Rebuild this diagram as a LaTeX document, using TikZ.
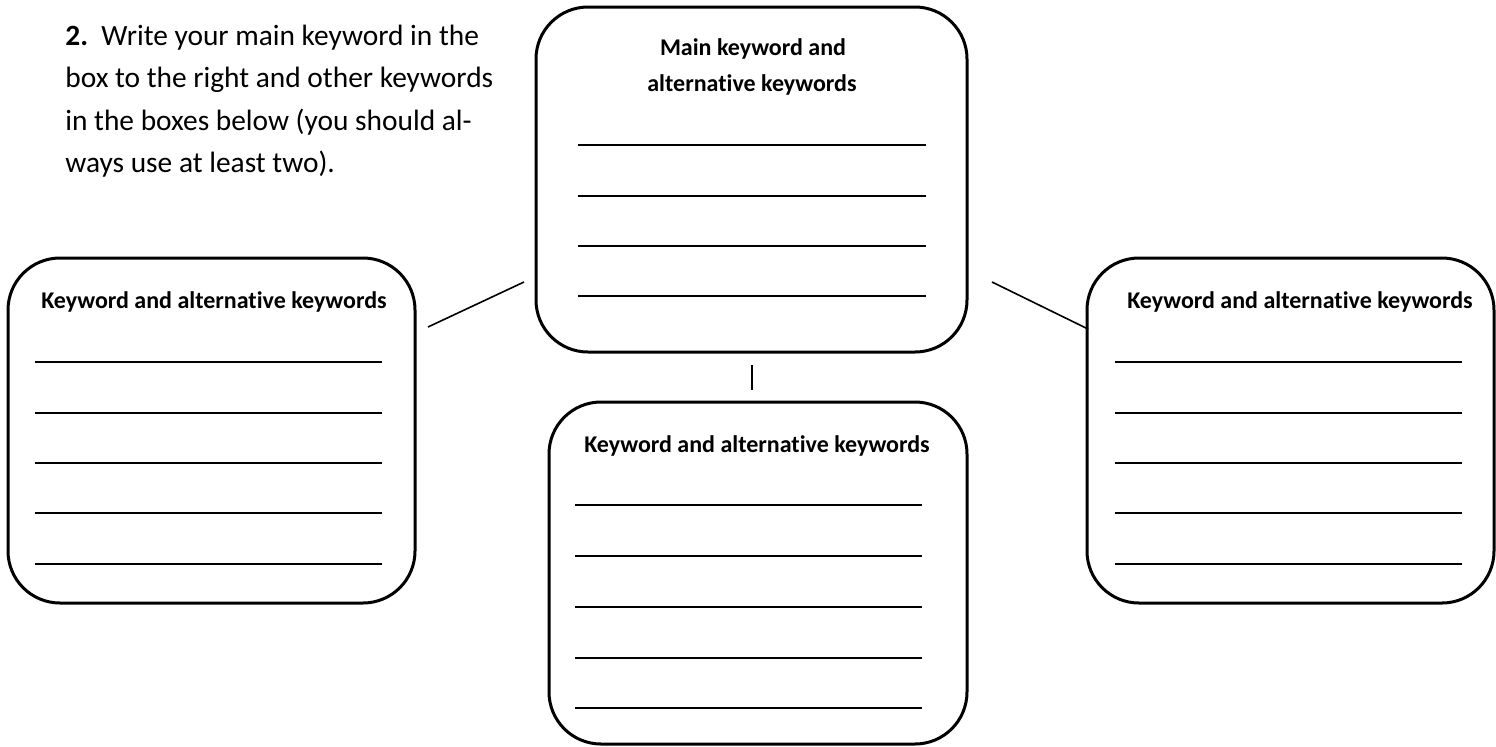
\documentclass[tikz,border=0pt]{standalone}
\usepackage{fontspec}
\setmainfont[Ligatures=NoCommon]{Carlito}
\begin{document}
\begin{tikzpicture}[x=0.5pt,y=-0.5pt,
  kbox/.style={draw=black, line width=1.5pt, rounded corners=26pt, fill=white, inner sep=0pt},
  wline/.style={line width=1.4pt},
  conn/.style={line width=0.8pt},
  ttl/.style={font=\fontsize{12}{14}\selectfont\bfseries, anchor=base, inner sep=0pt},
  body/.style={font=\fontsize{14.7}{17}\selectfont, anchor=base west, inner sep=0pt},
]
\useasboundingbox (0,0) rectangle (1496,746);

% instruction text
\node[body] (t1) at (65,45) {\textbf{2.}\ \ Write your main keyword in the};
\node[body] (t2) at (65,87) {box to the right and other keywords};
\node[body] (t3) at (65,130) {in the boxes below (you should al-};
\node[body] (t4) at (65,172) {ways use at least two).};

% boxes
\node[kbox, minimum width=215.5pt, minimum height=172.5pt] (main) at (751.5,179.5) {};
\node[kbox, minimum width=203.5pt, minimum height=172.5pt] (left) at (211.5,430.5) {};
\node[kbox, minimum width=203.5pt, minimum height=172.5pt] (right) at (1290.5,430.5) {};
\node[kbox, minimum width=209pt, minimum height=171pt] (bottom) at (758,573) {};

% titles
\node[ttl] (mt1) at (753,55) {Main keyword and};
\node[ttl] (mt2) at (752,91) {alternative keywords};
\node[ttl] (lt) at (214,308) {Keyword and alternative keywords};
\node[ttl] (rt) at (1300,308) {Keyword and alternative keywords};
\node[ttl] (bt) at (757,452) {Keyword and alternative keywords};

% writing lines
\foreach \y in {145,196,246,296} \draw[wline] (578,\y) -- (926,\y);
\foreach \y in {362,413,463,513,564} \draw[wline] (35,\y) -- (382,\y);
\foreach \y in {362,413,463,513,564} \draw[wline] (1115,\y) -- (1462,\y);
\foreach \y in {505,556,607,658,708} \draw[wline] (575,\y) -- (922,\y);

% connectors
\coordinate (cl1) at (428,327);
\coordinate (cl2) at (524,282);
\coordinate (cr1) at (992,282);
\coordinate (cr2) at (1088,329);
\coordinate (cb1) at (752,365);
\coordinate (cb2) at (752,390);
\draw[conn] (cl1) -- (cl2);
\draw[conn] (cr1) -- (cr2);
\draw[conn] (cb1) -- (cb2);
\end{tikzpicture}
\end{document}
